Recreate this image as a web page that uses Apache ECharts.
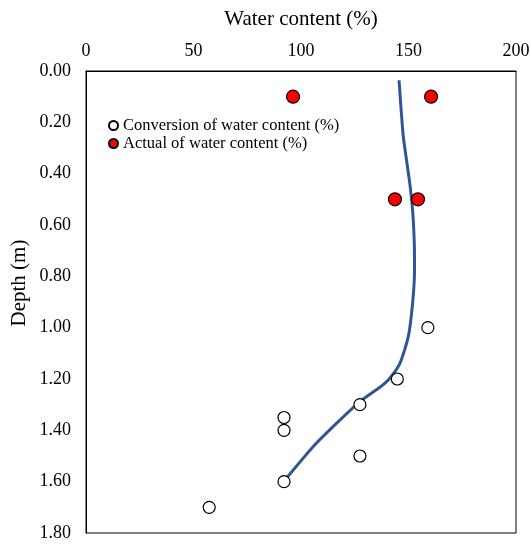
<!DOCTYPE html>
<html>
<head>
<meta charset="utf-8">
<script src="https://cdn.jsdelivr.net/npm/echarts@6/dist/echarts.min.js"></script>
<style>html,body{margin:0;padding:0;background:#fff}#c{width:531px;height:546px}</style>
</head>
<body>
<div id="c"></div>
<script>
const conversionX = [159, 144.8, 127.4, 92.1, 92.1, 127.4, 92.1, 57.3];
const conversionDepth = [1.00, 1.20, 1.30, 1.35, 1.40, 1.50, 1.60, 1.70];
const actualX = [96.3, 160.5, 143.7, 154.4];
const actualDepth = [0.10, 0.10, 0.50, 0.50];
const trendX = [145.6, 147.6, 150.4, 151.9, 152.7, 152.8, 151.9, 149.9, 146.0, 140.6, 136.7, 127.4, 116.6, 105.7, 92.6];
const trendDepth = [0.036, 0.257, 0.425, 0.542, 0.672, 0.776, 0.905, 1.035, 1.139, 1.204, 1.232, 1.288, 1.372, 1.463, 1.593];
const xTicks = [0, 50, 100, 150, 200];
const yTicks = [0.00, 0.20, 0.40, 0.60, 0.80, 1.00, 1.20, 1.40, 1.60, 1.80];

const font = '"Liberation Serif", "Times New Roman", serif';
const zip = (a, b) => a.map((v, i) => [v, b[i]]);

const chart = echarts.init(document.getElementById('c'), null, {renderer: 'canvas'});
chart.setOption({
  animation: false,
  backgroundColor: '#fff',
  textStyle: {fontFamily: font, color: '#000'},
  grid: {left: 86, right: 15, top: 71, bottom: 13, outerBoundsMode: 'none', containLabel: false,
         show: true, borderColor: '#000', borderWidth: 1, backgroundColor: 'transparent'},
  legend: {
    orient: 'vertical', left: 108, top: 117, itemWidth: 9, itemHeight: 9, itemGap: 1, padding: 0,
    data: [{name: 'Conversion of water content (%)', icon: 'circle'}, {name: 'Actual of water content (%)', icon: 'circle'}],
    textStyle: {fontFamily: font, fontSize: 16.5, color: '#000'}
  },
  graphic: [{
    type: 'text', x: 19, y: 283, rotation: Math.PI / 2,
    style: {text: 'Depth (m)', font: '21px "Liberation Serif", "Times New Roman", serif', fill: '#000',
            textAlign: 'center', textVerticalAlign: 'middle'}
  }],
  xAxis: {
    type: 'value', position: 'top', min: xTicks[0], max: xTicks[xTicks.length - 1], interval: 50,
    name: 'Water content (%)', nameLocation: 'middle', nameGap: 41,
    nameTextStyle: {fontFamily: font, fontSize: 21, color: '#000'},
    axisLine: {show: true, lineStyle: {color: '#000', width: 1}},
    axisTick: {show: false}, splitLine: {show: false},
    axisLabel: {fontFamily: font, fontSize: 18, color: '#000', margin: 11}
  },
  yAxis: {
    type: 'value', inverse: true, min: yTicks[0], max: yTicks[yTicks.length - 1], interval: 0.2,
    axisLine: {show: true, lineStyle: {color: '#000', width: 1}},
    axisTick: {show: false}, splitLine: {show: false},
    axisLabel: {fontFamily: font, fontSize: 18, color: '#000', margin: 15, formatter: v => v.toFixed(2)}
  },
  series: [
    {
      name: 'Trend', type: 'line', data: zip(trendX, trendDepth), smooth: 0.2,
      showSymbol: false, symbol: 'none', lineStyle: {color: '#2F5597', width: 3}, z: 2
    },
    {
      name: 'Conversion of water content (%)', type: 'scatter', data: zip(conversionX, conversionDepth),
      symbol: 'circle', symbolSize: 12,
      itemStyle: {color: '#fff', borderColor: '#000', borderWidth: 1.2, opacity: 1}, z: 3
    },
    {
      name: 'Actual of water content (%)', type: 'scatter', data: zip(actualX, actualDepth),
      symbol: 'circle', symbolSize: 13,
      itemStyle: {color: '#FF0000', borderColor: '#000', borderWidth: 1.2, opacity: 1}, z: 3
    }
  ]
});
</script>
</body>
</html>
